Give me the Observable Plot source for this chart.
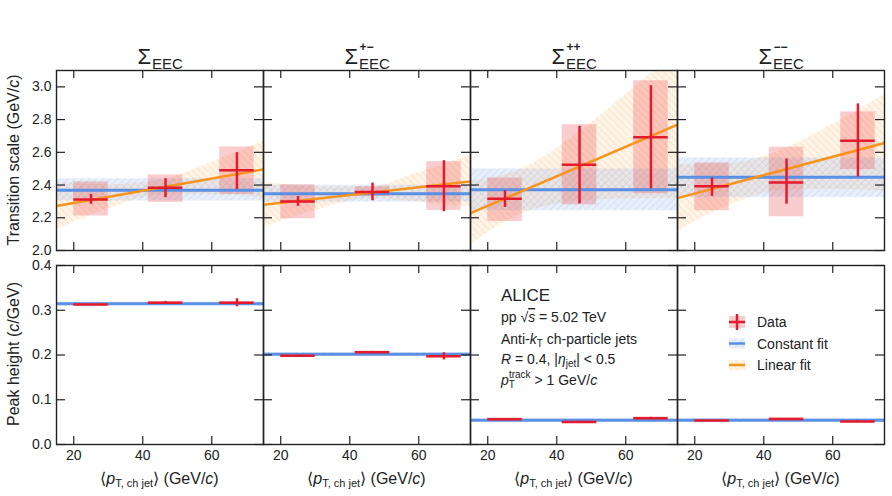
<!DOCTYPE html>
<html><head><meta charset="utf-8">
<script src="https://cdn.jsdelivr.net/npm/d3@7"></script>
<script src="https://cdn.jsdelivr.net/npm/@observablehq/plot@0.6"></script>
<style>
body{margin:0;background:#fff;font-family:"Liberation Sans",Arial,sans-serif;}
#root{position:relative;width:892px;height:496px;overflow:hidden;background:#fff;}
.panel{position:absolute;}
.panel svg{overflow:visible;}
#overlay{position:absolute;left:0;top:0;pointer-events:none;}
</style></head><body>
<div id="root">
<svg width="0" height="0" style="position:absolute">
 <defs>
  <pattern id="hatchBlue" width="5" height="5" patternUnits="userSpaceOnUse" patternTransform="rotate(45)">
   <rect width="5" height="5" fill="#6f9ee8" fill-opacity="0.16"/>
   <line x1="0" y1="0" x2="0" y2="5" stroke="#6f9ee8" stroke-opacity="0.32" stroke-width="1.3"/>
  </pattern>
  <pattern id="hatchOrange" width="5" height="5" patternUnits="userSpaceOnUse" patternTransform="rotate(-45)">
   <rect width="5" height="5" fill="#ffb060" fill-opacity="0.14"/>
   <line x1="0" y1="0" x2="0" y2="5" stroke="#ffa040" stroke-opacity="0.32" stroke-width="1.3"/>
  </pattern>
 </defs>
</svg>
</div>
<script>
// ---------- data ----------
const panelSup = ["", "+\u2212", "++", "\u2212\u2212"];
const xDomain = [15, 75];
const xTicks = [20, 40, 60];
const tsTicks = [2.0, 2.2, 2.4, 2.6, 2.8, 3.0];
const phTicks = [0.0, 0.1, 0.2, 0.3, 0.4];
const ptMean = [25, 46.6, 67.3];
const binLow = [20, 41.6, 62.3];
const binHigh = [30, 51.6, 72.3];

// Transition scale (GeV/c)
const tsValue  = [[2.312, 2.384, 2.490], [2.300, 2.357, 2.392], [2.316, 2.524, 2.692], [2.392, 2.416, 2.671]];
const tsStatLo = [[2.282, 2.323, 2.373], [2.270, 2.304, 2.237], [2.263, 2.285, 2.377], [2.331, 2.283, 2.449]];
const tsStatHi = [[2.343, 2.439, 2.598], [2.330, 2.412, 2.549], [2.365, 2.759, 3.007], [2.443, 2.559, 2.896]];
const tsSysLo  = [[2.211, 2.294, 2.343], [2.194, 2.330, 2.245], [2.178, 2.279, 2.347], [2.243, 2.206, 2.494]];
const tsSysHi  = [[2.419, 2.462, 2.633], [2.402, 2.390, 2.543], [2.443, 2.769, 3.037], [2.535, 2.631, 2.847]];
const tsConst   = [2.368, 2.347, 2.371, 2.447];
const tsConstLo = [2.302, 2.296, 2.243, 2.324];
const tsConstHi = [2.439, 2.398, 2.498, 2.566];
const linX = [15, 75];
const linY = [[2.272, 2.496], [2.280, 2.422], [2.228, 2.769], [2.320, 2.657]];
const bandX = [15, 30, 45, 60, 75];
const bandLo = [[2.129, 2.254, 2.339, 2.340, 2.325], [2.140, 2.244, 2.315, 2.297, 2.263], [2.034, 2.226, 2.298, 2.315, 2.319], [2.116, 2.277, 2.366, 2.375, 2.361]];
const bandHi = [[2.415, 2.402, 2.429, 2.540, 2.667], [2.420, 2.388, 2.387, 2.477, 2.581], [2.422, 2.500, 2.700, 2.953, 3.219], [2.524, 2.531, 2.612, 2.771, 2.953]];

// Peak height (c/GeV)
const phValue = [[0.313, 0.3168, 0.3168], [0.1985, 0.206, 0.197], [0.0564, 0.0505, 0.0587], [0.0535, 0.057, 0.0513]];
const phStat  = [[0.001, 0.003, 0.009], [0.001, 0.002, 0.008], [0.0005, 0.001, 0.002], [0.0005, 0.001, 0.002]];
const phSys   = [[0.003, 0.003, 0.003], [0.003, 0.003, 0.003], [0.003, 0.003, 0.003], [0.003, 0.003, 0.003]];
const phConst = [0.3146, 0.2015, 0.0542, 0.0542];
const phConstErr = [0.004, 0.004, 0.004, 0.004];

// ---------- style ----------
const RED = "#e31b2c", BLUE = "#5a8fe6", ORANGE = "#f7941d", INK = "#222";
const PW = 207, LEFT0 = 56;
const root = document.getElementById("root");

function build(row, col) {
  const top = row === 0;
  const H = top ? 180 : 179;
  const W = PW;
  const pts = ptMean.map((x, i) => {
    if (top) return {x, x1: binLow[i], x2: binHigh[i], y: tsValue[col][i],
      sLo: tsStatLo[col][i], sHi: tsStatHi[col][i], yLo: tsSysLo[col][i], yHi: tsSysHi[col][i]};
    const y = phValue[col][i];
    return {x, x1: binLow[i], x2: binHigh[i], y,
      sLo: y - phStat[col][i], sHi: y + phStat[col][i], yLo: y - phSys[col][i], yHi: y + phSys[col][i]};
  });
  const cVal = top ? tsConst[col] : phConst[col];
  const cLo = top ? tsConstLo[col] : phConst[col] - phConstErr[col];
  const cHi = top ? tsConstHi[col] : phConst[col] + phConstErr[col];
  const constBand = xDomain.map(x => ({x, lo: cLo, hi: cHi}));
  const yTicks = top ? tsTicks : phTicks;
  const marks = [];
  if (top) {
    const band = bandX.map((x, i) => ({x, lo: bandLo[col][i], hi: bandHi[col][i]}));
    marks.push(Plot.areaY(band, {x: "x", y1: "lo", y2: "hi", fill: "url(#hatchOrange)", clip: true, curve: "monotone-x"}));
  }
  marks.push(Plot.areaY(constBand, {x: "x", y1: "lo", y2: "hi", fill: "url(#hatchBlue)"}));
  marks.push(Plot.rect(pts, {x1: "x1", x2: "x2", y1: "yLo", y2: "yHi", fill: "#ea4a50", fillOpacity: 0.28}));
  marks.push(Plot.ruleY([cVal], {stroke: BLUE, strokeWidth: 3}));
  if (top) {
    const lin = linX.map((x, i) => ({x, y: linY[col][i]}));
    marks.push(Plot.line(lin, {x: "x", y: "y", stroke: ORANGE, strokeWidth: 2.5, clip: true}));
  }
  marks.push(Plot.ruleX(pts, {x: "x", y1: "sLo", y2: "sHi", stroke: RED, strokeWidth: 2.5}));
  marks.push(Plot.ruleY(pts, {y: "y", x1: "x1", x2: "x2", stroke: RED, strokeWidth: 2.5}));
  // inward ticks on all sides
  marks.push(Plot.tickY(yTicks, {y: d => d, insetRight: W - 9, stroke: INK, strokeWidth: 1.2}));
  marks.push(Plot.tickY(yTicks, {y: d => d, insetLeft: W - 9, stroke: INK, strokeWidth: 1.2}));
  marks.push(Plot.tickX(xTicks, {x: d => d, insetBottom: H - 8, stroke: INK, strokeWidth: 1.2}));
  marks.push(Plot.tickX(xTicks, {x: d => d, insetTop: H - 8, stroke: INK, strokeWidth: 1.2}));
  marks.push(Plot.frame({stroke: INK, strokeWidth: 1.4}));
  if (col === 0) marks.push(Plot.axisY({ticks: yTicks, tickSize: 0, tickPadding: 5, tickFormat: d3.format(".1f"), label: null, fontSize: 14, fill: INK}));
  if (!top) marks.push(Plot.axisX({ticks: xTicks, tickSize: 0, tickPadding: 6, label: null, fontSize: 14, fill: INK}));
  const svg = Plot.plot({
    width: W, height: H, marginTop: 0, marginRight: 0, marginBottom: 0, marginLeft: 0,
    x: {domain: xDomain, axis: null},
    y: {domain: top ? [2.0, 3.1] : [0, 0.4], axis: null},
    style: {fontFamily: '"Liberation Sans", Arial, sans-serif', fontSize: "14px", color: INK, background: "none", overflow: "visible"},
    marks
  });
  const div = document.createElement("div");
  div.className = "panel";
  div.style.left = (LEFT0 + col * PW) + "px";
  div.style.top = (top ? 70 : 265) + "px";
  div.appendChild(svg);
  root.appendChild(div);
}
for (let r = 0; r < 2; r++) for (let c = 0; c < 4; c++) build(r, c);

// ---------- annotations ----------
const ov = d3.select(root).append("svg").attr("id", "overlay").attr("width", 892).attr("height", 496)
  .style("font-family", '"Liberation Sans", Arial, sans-serif').attr("fill", INK);

// panel titles
panelSup.forEach((sup, c) => {
  const cx = LEFT0 + c * PW + PW / 2;
  const x0 = cx - 22;
  ov.append("text").attr("x", x0).attr("y", 64).attr("font-size", 22).text("\u03A3");
  ov.append("text").attr("x", x0 + 14.5).attr("y", 69).attr("font-size", 15).text("EEC");
  if (sup) ov.append("text").attr("x", x0 + 15).attr("y", 51).attr("font-size", 12).attr("font-weight", "bold").text(sup);
});

// y titles
function yTitle(cy, parts) {
  const t = ov.append("text").attr("transform", `translate(19,${cy}) rotate(-90)`).attr("text-anchor", "middle").attr("font-size", 16);
  parts.forEach(p => t.append("tspan").attr("font-style", p[1] ? "italic" : null).text(p[0]));
}
yTitle(160, [["Transition scale (GeV/", 0], ["c", 1], [")", 0]]);
yTitle(354, [["Peak height (", 0], ["c", 1], ["/GeV)", 0]]);

// x titles
for (let c = 0; c < 4; c++) {
  const cx = LEFT0 + c * PW + PW / 2;
  const t = ov.append("text").attr("x", cx).attr("y", 484).attr("text-anchor", "middle").attr("font-size", 16);
  t.append("tspan").text("\u27E8");
  t.append("tspan").attr("font-style", "italic").text("p");
  t.append("tspan").attr("font-size", 11).attr("dy", 3).text("T, ch jet");
  t.append("tspan").attr("dy", -3).text("\u27E9 (GeV/");
  t.append("tspan").attr("font-style", "italic").text("c");
  t.append("tspan").text(")");
}

// ALICE block
const ax = 501;
ov.append("text").attr("x", ax).attr("y", 301).attr("font-size", 17).text("ALICE");
{
  const t = ov.append("text").attr("x", ax).attr("y", 322).attr("font-size", 14);
  t.append("tspan").text("pp ");
  t.append("tspan").text("\u221A");
  t.append("tspan").attr("font-style", "italic").attr("text-decoration", "overline").text("s");
  t.append("tspan").text(" =  5.02 TeV");
}
{
  const t = ov.append("text").attr("x", ax).attr("y", 344).attr("font-size", 14);
  t.append("tspan").text("Anti-");
  t.append("tspan").attr("font-style", "italic").text("k");
  t.append("tspan").attr("font-size", 10).attr("dy", 3).text("T");
  t.append("tspan").attr("dy", -3).text(" ch-particle jets");
}
{
  const t = ov.append("text").attr("x", ax).attr("y", 364).attr("font-size", 14);
  t.append("tspan").attr("font-style", "italic").text("R");
  t.append("tspan").text(" = 0.4, |");
  t.append("tspan").attr("font-style", "italic").text("\u03B7");
  t.append("tspan").attr("font-size", 10).attr("dy", 3).text("jet");
  t.append("tspan").attr("dy", -3).text("| < 0.5");
}
{
  const t = ov.append("text").attr("x", ax).attr("y", 385).attr("font-size", 14);
  t.append("tspan").attr("font-style", "italic").text("p");
  t.append("tspan").attr("font-size", 10).attr("dy", 3).text("T");
  t.append("tspan").attr("font-size", 10).attr("dx", -6).attr("dy", -10).text("track");
  t.append("tspan").attr("dy", 7).text(" > 1 GeV/");
  t.append("tspan").attr("font-style", "italic").text("c");
}

// legend
const legX = 729, legW = 16;
const legRows = [
  {y: 322, label: "Data"},
  {y: 343.5, label: "Constant fit"},
  {y: 365, label: "Linear fit"}
];
// Data
ov.append("rect").attr("x", legX).attr("y", legRows[0].y - 6).attr("width", legW).attr("height", 12).attr("fill", "#ea4a50").attr("fill-opacity", 0.28);
ov.append("line").attr("x1", legX).attr("x2", legX + legW).attr("y1", legRows[0].y).attr("y2", legRows[0].y).attr("stroke", RED).attr("stroke-width", 2.5);
ov.append("line").attr("x1", legX + legW / 2).attr("x2", legX + legW / 2).attr("y1", legRows[0].y - 8).attr("y2", legRows[0].y + 8).attr("stroke", RED).attr("stroke-width", 2.5);
// Constant
ov.append("rect").attr("x", legX).attr("y", legRows[1].y - 5).attr("width", legW).attr("height", 10).attr("fill", "url(#hatchBlue)");
ov.append("line").attr("x1", legX).attr("x2", legX + legW).attr("y1", legRows[1].y).attr("y2", legRows[1].y).attr("stroke", BLUE).attr("stroke-width", 2.5);
// Linear
ov.append("rect").attr("x", legX).attr("y", legRows[2].y - 5).attr("width", legW).attr("height", 10).attr("fill", "url(#hatchOrange)");
ov.append("line").attr("x1", legX).attr("x2", legX + legW).attr("y1", legRows[2].y).attr("y2", legRows[2].y).attr("stroke", ORANGE).attr("stroke-width", 2.5);
legRows.forEach(r => ov.append("text").attr("x", 757).attr("y", r.y + 5).attr("font-size", 14).text(r.label));
</script>
</body></html>
